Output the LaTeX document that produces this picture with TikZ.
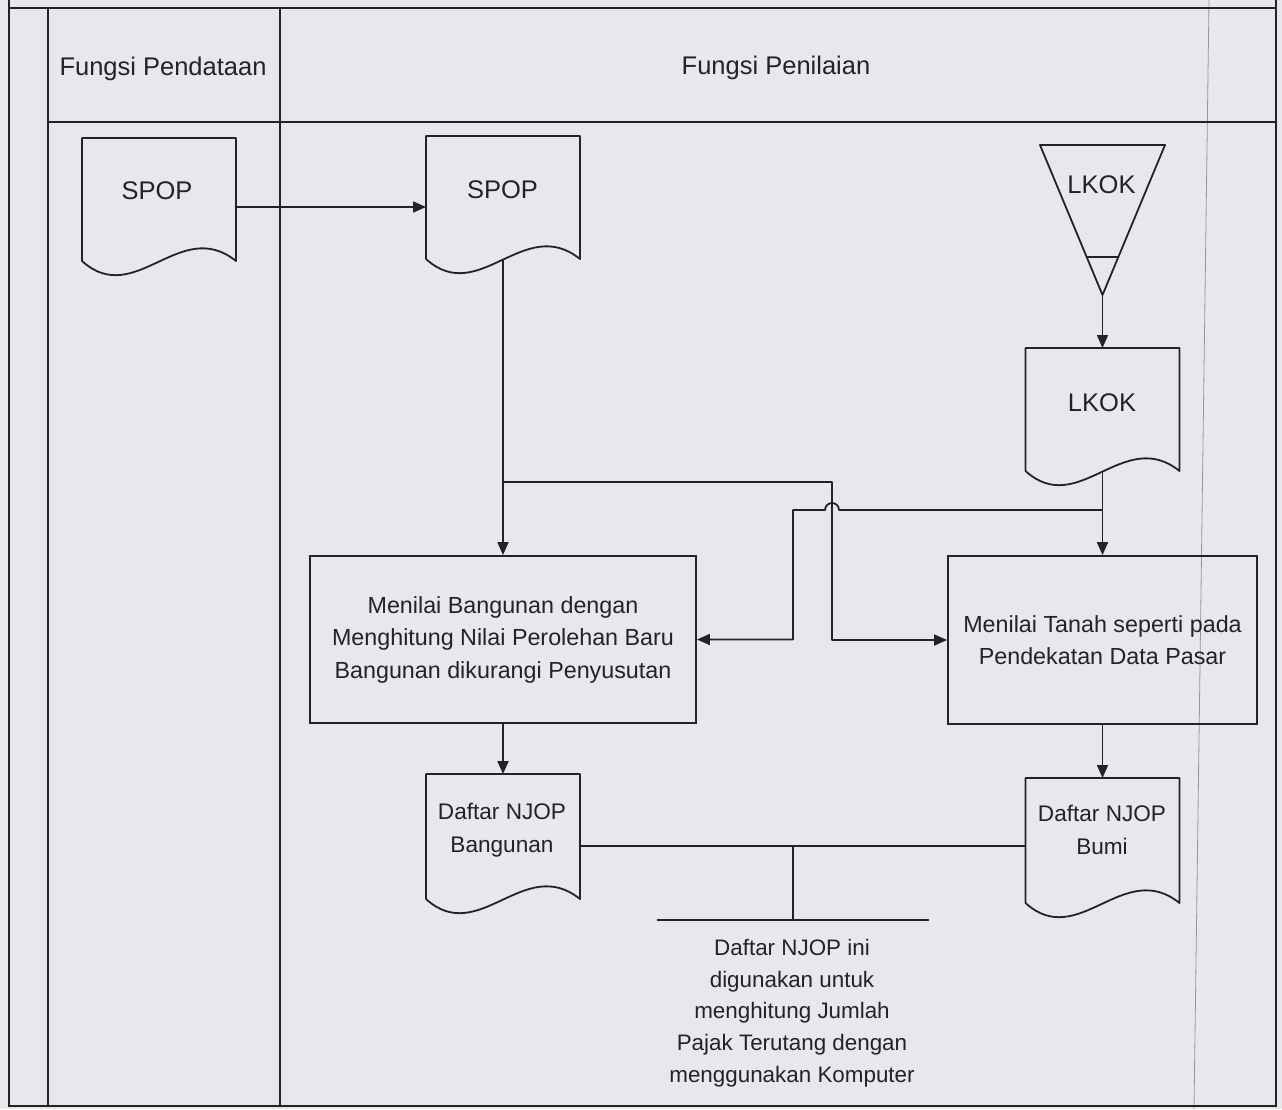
\documentclass[tikz,border=0pt]{standalone}
\usepackage{fontspec}
\setmainfont{Liberation Sans}
\usetikzlibrary{arrows.meta,calc}
\definecolor{paper}{RGB}{232,231,236}
\definecolor{ink}{RGB}{34,34,40}
\definecolor{crease}{RGB}{150,150,158}
\begin{document}
\begin{tikzpicture}[x=1pt,y=-1pt,
  frame/.style={draw=ink,line width=2.2pt},
  line/.style={draw=ink,line width=1.8pt,line join=round},
  flow/.style={line,-{Triangle[length=13pt,width=11pt]}},
  docbox/.style={rectangle,inner sep=0pt,outer sep=0pt,minimum width=154pt,minimum height=#1},
  docbox/.default=123pt,
  procbox/.style={rectangle,draw=ink,line width=1.8pt,inner sep=0pt,align=center,text=ink,
    font=\fontsize{23.3}{32.5}\selectfont},
  hdr/.style={inner sep=0pt,text=ink,font=\fontsize{25.5}{30}\selectfont},
  big/.style={inner sep=0pt,text=ink,font=\fontsize{25.5}{30}\selectfont},
  small/.style={inner sep=0pt,text=ink,align=center,font=\fontsize{22.6}{33.3}\selectfont},
  notetext/.style={inner sep=0pt,text=ink,align=center,font=\fontsize{22.4}{31.6}\selectfont},
  barnode/.style={rectangle,inner sep=0pt,outer sep=0pt,minimum width=272pt,minimum height=0pt}
]
% paper
\fill[paper] (0,0) rectangle (1282,1109);
\useasboundingbox (0,0) rectangle (1282,1109);
\draw[crease,line width=0.8pt] (1209,0) -- (1194,1109);

% swimlane frame
\draw[frame] (9,0) -- (9,1106) -- (1276,1106) -- (1276,0);
\draw[frame] (9,8) -- (1276,8);
\draw[frame] (48,8) -- (48,1106);
\draw[frame] (280,8) -- (280,1106);
\draw[frame] (48,122) -- (1276,122);

% lane headers
\node[hdr,anchor=base] (hPendataan) at (163,75) {Fungsi Pendataan};
\node[hdr,anchor=base] (hPenilaian) at (776,74) {Fungsi Penilaian};

% document symbols
\node[docbox] (spopA) at (159,199.5) {};
\node[docbox] (spopB) at (503,197.5) {};
\node[docbox] (lkokD) at (1102.5,409.5) {};
\node[docbox=125pt] (njopB) at (503,836.5) {};
\node[docbox=125pt] (njopT) at (1102.5,840.5) {};
\foreach \d in {spopA,spopB,lkokD,njopB,njopT}
  \draw[line] (\d.south west) -- (\d.north west) -- (\d.north east) -- (\d.south east)
    .. controls ([shift={(-56,-45)}]\d.south east) and ([shift={(53,48)}]\d.south west) .. (\d.south west);

\node[big,anchor=base] (tSpopA) at (157,199) {SPOP};
\node[big,anchor=base] (tSpopB) at (502.5,198) {SPOP};
\node[big,anchor=base] (tLkokD) at (1102,411.5) {LKOK};
\node[small] (tNjopB) at (502,830) {Daftar NJOP\\Bangunan};
\node[small] (tNjopT) at (1102,830) {Daftar NJOP\\Bumi};

% offline file (extract) symbol
\node[rectangle,inner sep=0pt,outer sep=0pt,minimum width=125pt,minimum height=150pt] (lkokT) at (1102.5,220) {};
\draw[line] (lkokT.north west) -- (lkokT.north east) -- (lkokT.south) -- cycle;
\draw[line] ($(lkokT.south)!0.253!(lkokT.north west)$) -- ($(lkokT.south)!0.253!(lkokT.north east)$);
\node[big,anchor=base] (tLkokT) at (1101.5,193) {LKOK};

% processes
\node[procbox,minimum width=386pt,minimum height=167pt] (bangunan) at (503,639.5)
  {Menilai Bangunan dengan\\Menghitung Nilai Perolehan Baru\\Bangunan dikurangi Penyusutan};
\node[procbox,minimum width=309pt,minimum height=168pt] (tanah) at (1102.5,640)
  {Menilai Tanah seperti pada\\Pendekatan Data Pasar};

% annotation
\node[barnode] (bar) at (793,920) {};
\draw[line] (bar.west) -- (bar.east);
\node[notetext] (note) at (792,1013)
  {Daftar NJOP ini\\digunakan untuk\\menghitung Jumlah\\Pajak Terutang dengan\\menggunakan Komputer};

% connectors
\coordinate (row) at (0,207);
\draw[flow] (spopA.east |- row) -- (spopB.west |- row);
\draw[flow] (spopB.south) -- (bangunan.north);
\draw[flow] (lkokT.south) -- (lkokD.north);
\draw[flow] (lkokD.south) -- (tanah.north);
\draw[flow] (bangunan.south) -- (njopB.north);
\draw[flow] (tanah.south) -- (njopT.north);

\coordinate (j1) at (503,482);
\coordinate (k1) at (832,482);
\draw[flow] (j1) -- (k1) -- (k1 |- tanah.west) -- (tanah.west);

\coordinate (j2) at (1102.5,510);
\coordinate (k2) at (793,510);
\draw[flow] (j2) -- ([xshift=7pt]k1 |- j2) arc[start angle=0,end angle=-180,radius=7] -- (k2)
  -- (k2 |- bangunan.east) -- (bangunan.east);

\coordinate (m) at (793,846);
\draw[line] (m -| njopB.east) -- (m -| njopT.west);
\draw[line] (m) -- (bar);
\end{tikzpicture}
\end{document}
